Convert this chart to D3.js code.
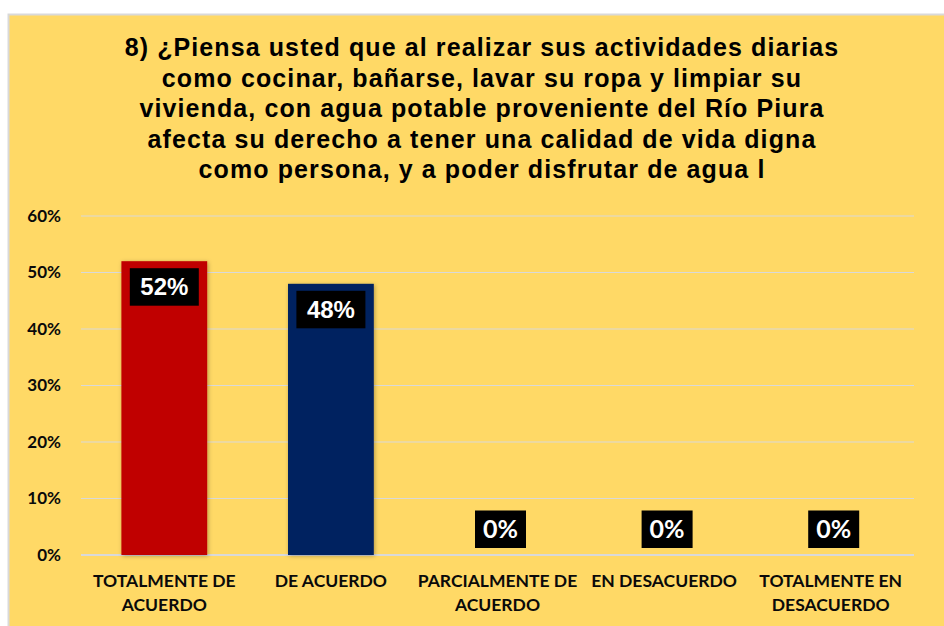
<!DOCTYPE html>
<html>
<head>
<meta charset="utf-8">
<script src="https://cdn.jsdelivr.net/npm/d3@7"></script>
<style>
  body { margin: 0; background: #fff; }
  svg { display: block; }
</style>
</head>
<body>
<svg id="chart"></svg>
<script>
const titleLines = [
    '8) ¿Piensa usted que al realizar sus actividades diarias',
    'como cocinar, bañarse, lavar su ropa y limpiar su',
    'vivienda, con agua potable proveniente del Río Piura',
    'afecta su derecho a tener una calidad de vida digna',
    'como persona, y a poder disfrutar de agua l'
];
const categories = [
    ['TOTALMENTE DE', 'ACUERDO'],
    ['DE ACUERDO'],
    ['PARCIALMENTE DE', 'ACUERDO'],
    ['EN DESACUERDO'],
    ['TOTALMENTE EN', 'DESACUERDO']
];
const values = [0.52, 0.48, 0, 0, 0];
const barColors = ['#C00000', '#002060', '#C00000', '#C00000', '#C00000'];
const yTicks = [0, 0.1, 0.2, 0.3, 0.4, 0.5, 0.6];

const W = 944, H = 626;
const plot = { left: 81, right: 914, top: 216, bottom: 555 };

const svg = d3.select('#chart').attr('width', W).attr('height', H);

// panel
svg.append('rect')
    .attr('x', 8.5).attr('y', 14.5)
    .attr('width', W).attr('height', H)
    .attr('fill', '#FFD966')
    .attr('stroke', '#D9D9D9')
    .attr('stroke-width', 2);

const defs = svg.append('defs');
const shadow = defs.append('filter').attr('id', 'shadow')
    .attr('x', '-20%').attr('y', '-20%').attr('width', '140%').attr('height', '140%');
shadow.append('feDropShadow')
    .attr('dx', 1).attr('dy', 1).attr('stdDeviation', 2)
    .attr('flood-color', '#000').attr('flood-opacity', 0.3);

// title
svg.append('text')
    .attr('text-anchor', 'middle')
    .style('font-family', '"Liberation Sans", Arial, sans-serif')
    .style('font-weight', 'bold')
    .style('font-size', '25px')
    .style('letter-spacing', '1.1px')
    .attr('fill', '#000')
    .selectAll('tspan')
    .data(titleLines)
    .enter()
    .append('tspan')
    .attr('x', 482)
    .attr('y', (d, i) => 56 + i * 30.5)
    .text(d => d);

const xScale = d3.scaleBand()
    .domain(d3.range(categories.length))
    .range([plot.left, plot.right])
    .paddingInner(0.485)
    .paddingOuter(0.2425);

const yScale = d3.scaleLinear()
    .domain([0, 0.6])
    .range([plot.bottom, plot.top]);

// gridlines
svg.append('g')
    .selectAll('line')
    .data(yTicks)
    .enter()
    .append('line')
    .attr('x1', plot.left).attr('x2', plot.right)
    .attr('y1', d => yScale(d)).attr('y2', d => yScale(d))
    .attr('stroke', '#D9D9D9')
    .attr('stroke-width', d => d === 0 ? 2 : 1.2);

// y axis labels
const yAxis = d3.axisLeft(yScale)
    .tickValues(yTicks)
    .tickFormat(d3.format('.0%'))
    .tickSize(0)
    .tickPadding(20);
const yg = svg.append('g')
    .attr('transform', `translate(${plot.left},0)`)
    .call(yAxis);
yg.select('.domain').remove();
yg.selectAll('text')
    .style('font-family', 'Lato, "Open Sans", sans-serif')
    .style('font-weight', 'bold')
    .style('font-size', '17px')
    .attr('fill', '#0a0a0a');

// bars
svg.append('g')
    .selectAll('rect')
    .data(values)
    .enter()
    .append('rect')
    .attr('x', (d, i) => xScale(i))
    .attr('y', d => yScale(d))
    .attr('width', xScale.bandwidth())
    .attr('height', d => plot.bottom - yScale(d))
    .attr('fill', (d, i) => barColors[i])
    .attr('filter', 'url(#shadow)');

// data labels
const labels = svg.append('g')
    .selectAll('g')
    .data(values)
    .enter()
    .append('g')
    .attr('transform', (d, i) => {
        let cx = xScale(i) + xScale.bandwidth() / 2 + (d > 0 ? 0 : 3);
        let cy = d > 0 ? yScale(d) + 25.5 : yScale(d) - 26;
        return `translate(${cx},${cy})`;
    });
labels.append('rect')
    .attr('x', d => d > 0 ? -34.5 : -25.5)
    .attr('y', -18.5)
    .attr('width', d => d > 0 ? 69 : 51)
    .attr('height', 37.5)
    .attr('fill', '#000');
labels.append('text')
    .attr('text-anchor', 'middle')
    .attr('y', 8.5)
    .style('font-family', d => d > 0 ? '"Liberation Sans", Arial, sans-serif' : 'Lato, sans-serif')
    .style('font-weight', 'bold')
    .style('font-size', d => d > 0 ? '24px' : '25px')
    .attr('fill', '#fff')
    .text(d => d3.format('.0%')(d));

// category labels
const xg = svg.append('g');
categories.forEach((lines, i) => {
    let t = xg.append('text')
        .attr('text-anchor', 'middle')
        .style('font-family', 'Lato, "Open Sans", sans-serif')
        .style('font-weight', 'bold')
        .style('font-size', '17.5px')
        .attr('fill', '#0a0a0a');
    t.selectAll('tspan')
        .data(lines)
        .enter()
        .append('tspan')
        .attr('x', xScale(i) + xScale.bandwidth() / 2)
        .attr('y', (d, j) => 587 + j * 24)
        .text(d => d);
});
</script>
</body>
</html>
